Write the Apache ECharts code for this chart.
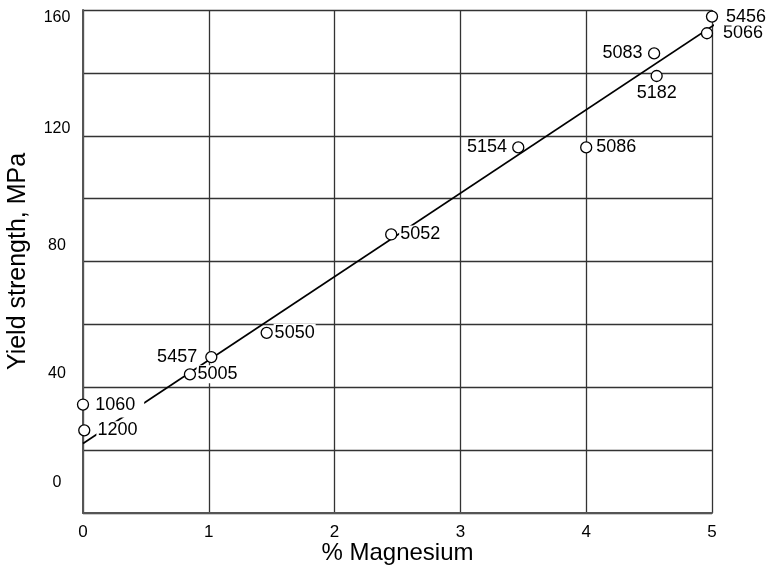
<!DOCTYPE html>
<html>
<head>
<meta charset="utf-8">
<script src="https://cdn.jsdelivr.net/npm/echarts@6/dist/echarts.min.js"></script>
<style>html,body{margin:0;padding:0;background:#fff}#c{width:766px;height:568px}</style>
</head>
<body>
<div id="c"></div>
<script>
// ---- data ----
const alloys = ['1060','1200','5005','5457','5050','5052','5154','5086','5083','5182','5066','5456'];
const magnesium = [0.0, 0.01, 0.85, 1.02, 1.46, 2.45, 3.46, 4.0, 4.54, 4.56, 4.96, 5.0];
const yieldMPa = [34.5, 26.3, 44.1, 49.6, 57.3, 88.6, 116.3, 116.3, 146.2, 139.0, 152.6, 157.9];
const fitX = [0, 5.026];
const fitY = [22.1, 155.5];
const xTicks = [0, 1, 2, 3, 4, 5];
const yTickLabels = [0, 40, 80, 120, 160];

// ---- label placement (style only) ----
const labelCfg = {
  '1060': {position: 'right', distance: 5, offset: [0, 3.5], padding: [4, 9, 4, 1]},
  '1200': {position: 'right', distance: 6, offset: [0, 1.5]},
  '5005': {position: 'right', distance: 0.5, offset: [0, 9.5]},
  '5457': {position: 'left', distance: 7, offset: [0, -6]},
  '5050': {position: 'right', distance: 0.8, offset: [0, 3]},
  '5052': {position: 'right', distance: 1.8, offset: [0, 7.7]},
  '5154': {position: 'left', distance: 4.2, offset: [0, 0]},
  '5086': {position: 'right', distance: 2.8, offset: [0, 0]},
  '5083': {position: 'left', distance: 4.5, offset: [0, 3.7]},
  '5182': {position: 'bottom', distance: 2, offset: [4, 0]},
  '5066': {position: 'right', distance: 8.8, offset: [0, 2.5]},
  '5456': {position: 'right', distance: 6.8, offset: [0, -1.7]}
};

const scatterData = alloys.map((n, i) => ({
  name: n,
  value: [magnesium[i], yieldMPa[i]],
  label: Object.assign({show: true, formatter: n}, labelCfg[n])
}));

const FONT = 'Liberation Sans, Arial, sans-serif';
const yLabelRich = {
  v0: {padding: [0, 0, 60, 0], fontSize: 16, color: '#000', fontFamily: FONT},
  v40: {padding: [0, 0, 27, 0], fontSize: 16, color: '#000', fontFamily: FONT},
  v80: {padding: [0, 0, 32, 0], fontSize: 16, color: '#000', fontFamily: FONT},
  v120: {padding: [0, 0, 14, 0], fontSize: 16, color: '#000', fontFamily: FONT},
  v160: {padding: [16, 0, 0, 0], fontSize: 16, color: '#000', fontFamily: FONT}
};

const chart = echarts.init(document.getElementById('c'), null, {renderer: 'canvas'});
chart.setOption({
  backgroundColor: '#fff',
  animation: false,
  textStyle: {fontFamily: FONT},
  grid: {left: 83, right: 54, top: 10, bottom: 55, containLabel: false, outerBoundsMode: 'none'},
  xAxis: {
    type: 'value', min: xTicks[0], max: xTicks[xTicks.length - 1], interval: 1,
    name: '% Magnesium', nameLocation: 'middle', nameGap: 28, nameMoveOverlap: false,
    nameTextStyle: {fontSize: 24, color: '#000', fontFamily: FONT},
    axisLine: {show: true, lineStyle: {color: '#555', width: 2}},
    axisTick: {show: false},
    axisLabel: {fontSize: 17, color: '#000', margin: 11, fontFamily: FONT},
    splitLine: {show: true, lineStyle: {color: '#333', width: 1.3}}
  },
  yAxis: {
    type: 'value', min: 0, max: 160, interval: 20,
    name: 'Yield strength, MPa', nameLocation: 'middle', nameGap: 52, nameRotate: 90, nameMoveOverlap: false,
    nameTextStyle: {fontSize: 25, color: '#000', fontFamily: FONT},
    axisLine: {show: true, lineStyle: {color: '#555', width: 2}},
    axisTick: {show: false},
    axisLabel: {
      margin: 26, align: 'center', color: '#000', fontSize: 16, fontFamily: FONT,
      formatter: v => yTickLabels.indexOf(v) >= 0 ? '{v' + v + '|' + v + '}' : '',
      rich: yLabelRich
    },
    splitLine: {show: true, lineStyle: {color: '#333', width: 1.3}}
  },
  series: [
    {
      type: 'line', z: 2, silent: true, clip: false,
      data: fitX.map((x, i) => [x, fitY[i]]),
      showSymbol: false, symbol: 'none',
      lineStyle: {color: '#000', width: 1.7}
    },
    {
      type: 'scatter', z: 5,
      data: scatterData,
      symbol: 'circle', symbolSize: 11,
      itemStyle: {color: '#fff', borderColor: '#000', borderWidth: 1.3, opacity: 1},
      label: {
        show: true, fontSize: 18, color: '#000', fontFamily: FONT,
        backgroundColor: '#fff', padding: [0, 1]
      },
      labelLayout: {hideOverlap: false}
    }
  ]
});
</script>
</body>
</html>
